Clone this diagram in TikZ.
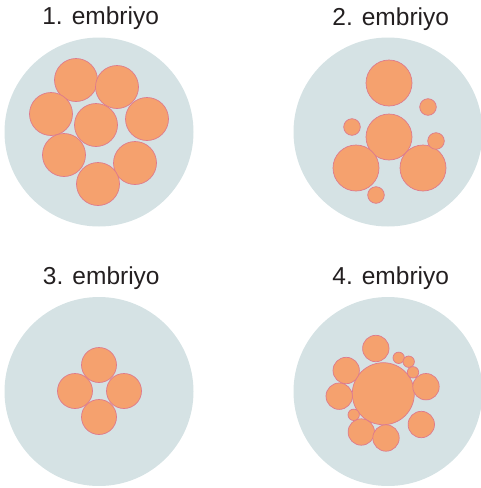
\documentclass[tikz,border=0pt]{standalone}
\usepackage{fontspec}
\setmainfont{Liberation Sans}
\definecolor{zona}{RGB}{213,226,228}
\definecolor{cellfill}{RGB}{245,161,110}
\definecolor{celledge}{RGB}{222,122,140}
\definecolor{labeltext}{RGB}{35,31,32}
\begin{document}
\begin{tikzpicture}[x=1pt,y=-1pt,
  zonabox/.style={fill=zona,draw=none},
  cell/.style={fill=cellfill,draw=celledge,line width=0.7pt},
  title/.style={text=labeltext,font=\fontsize{24.5}{28}\selectfont,anchor=base,inner sep=0pt}]
\useasboundingbox (0,0) rectangle (481,488);

% embryo outlines
\fill[zonabox] (99,132) circle (94.5);
\fill[zonabox] (388,132) circle (94.5);
\fill[zonabox] (99,391.5) circle (94.5);
\fill[zonabox] (388,391.5) circle (94.5);

% titles
\node[title] (t1) at (100.6,24.3) {1. embriyo};
\node[title] (t2) at (390.7,25) {2. embriyo};
\node[title] (t3) at (101.3,284) {3. embriyo};
\node[title] (t4) at (390.7,284) {4. embriyo};

% embryo 1: eight equal blastomeres
\foreach \x/\y in {76/80, 117/87, 51/114, 96/125, 147/119, 64/155, 135/163, 98/184}
  \draw[cell] (\x,\y) circle (21.5);

% embryo 2: large and small blastomeres
\foreach \x/\y/\r in {389/83/23, 389/137/23, 356/168/23, 423/168/23,
                      428/107/8.3, 352/127/8.3, 436/141/8.3, 376/195/8.3}
  \draw[cell] (\x,\y) circle (\r);

% embryo 3: four blastomeres
\foreach \x/\y in {99/365, 75/391, 124/391, 99/417}
  \draw[cell] (\x,\y) circle (17.5);

% embryo 4: one large blastomere with fragments
\draw[cell] (383.3,393.7) circle (31);
\foreach \x/\y in {375.8/348.5, 426/386.7, 346.2/370.5, 339.2/396.2,
                   361.3/432, 386/438, 421.3/424.5}
  \draw[cell] (\x,\y) circle (13.2);
\foreach \x/\y in {398.7/357.8, 408.7/361.7, 413/372.3, 353.7/414.8}
  \draw[cell] (\x,\y) circle (5.7);
\end{tikzpicture}
\end{document}
